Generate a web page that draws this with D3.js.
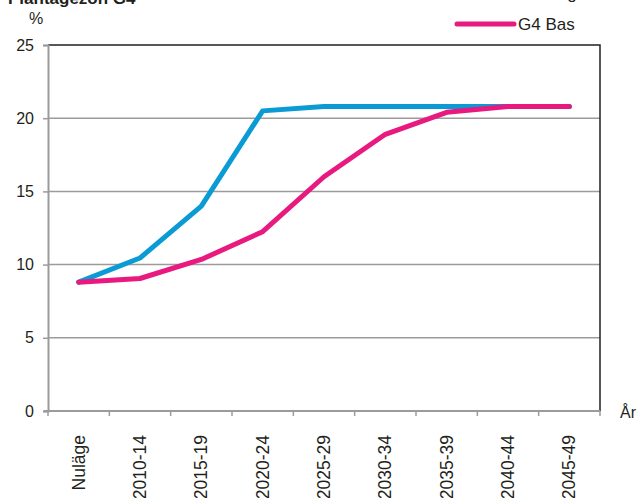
<!DOCTYPE html>
<html>
<head>
<meta charset="utf-8">
<script src="https://cdn.jsdelivr.net/npm/d3@7"></script>
<style>
  html, body { margin: 0; padding: 0; background: #fff; }
  svg { display: block; font-family: "Liberation Sans", Arial, sans-serif; }
</style>
</head>
<body>
<svg id="chart" width="638" height="498"></svg>
<script>
// Period categories along the x axis
const categories = ["Nuläge", "2010-14", "2015-19", "2020-24", "2025-29", "2030-34", "2035-39", "2040-44", "2045-49"];
// Share of area (%) per period
const seriesHog = [8.8, 10.45, 14.0, 20.5, 20.8, 20.8, 20.8, 20.8, 20.8];
const seriesBas = [8.8, 9.05, 10.35, 12.25, 16.0, 18.9, 20.4, 20.8, 20.8];
const seriesNames = ["G4 Hög", "G4 Bas"];
const yTicks = [0, 5, 10, 15, 20, 25];

const svg = d3.select("#chart");
const plotLeft = 48, plotRight = 600, plotTop = 45, plotBottom = 411;

const x = d3.scaleBand().domain(categories).range([plotLeft, plotRight]).padding(0);
const y = d3.scaleLinear().domain([0, 25]).range([plotBottom, plotTop]);

const grey = "#9b9b9d";
const ink = "#231f20";

// Horizontal gridlines
svg.append("g").selectAll("line")
  .data(yTicks.filter(t => t > 0 && t < 25))
  .join("line")
  .attr("x1", plotLeft).attr("x2", plotRight)
  .attr("y1", d => y(d)).attr("y2", d => y(d))
  .attr("stroke", grey).attr("stroke-width", 1.5);

// Top and right frame
svg.append("path")
  .attr("d", `M${plotLeft},${y(25)}H${plotRight}V${plotBottom}`)
  .attr("fill", "none").attr("stroke", ink).attr("stroke-width", 1.5);

// Y axis
const yAxis = svg.append("g")
  .attr("transform", `translate(${plotLeft},0)`)
  .call(d3.axisLeft(y).tickValues(yTicks).tickSize(5).tickPadding(9).tickFormat(d3.format("d")));
yAxis.select(".domain").attr("stroke", grey).attr("stroke-width", 2);
yAxis.selectAll(".tick line").attr("stroke", grey).attr("stroke-width", 1.5);
yAxis.selectAll(".tick text").attr("font-size", 16).attr("fill", ink)
  .attr("font-family", "Liberation Sans, Arial, sans-serif");

// X axis with ticks on band boundaries
const xAxisG = svg.append("g");
xAxisG.append("line")
  .attr("x1", plotLeft - 4).attr("x2", plotRight).attr("y1", plotBottom).attr("y2", plotBottom)
  .attr("stroke", grey).attr("stroke-width", 2);
const bounds = categories.map(c => x(c)).concat([x(categories[categories.length - 1]) + x.bandwidth()]);
xAxisG.selectAll("line.tick")
  .data(bounds)
  .join("line").attr("class", "tick")
  .attr("x1", d => d).attr("x2", d => d)
  .attr("y1", plotBottom).attr("y2", plotBottom + 5)
  .attr("stroke", grey).attr("stroke-width", 1.5);

// Rotated category labels
svg.append("g").selectAll("text")
  .data(categories)
  .join("text")
  .attr("transform", d => `translate(${x(d) + x.bandwidth() / 2 + 6},${plotBottom + 24}) rotate(-90)`)
  .attr("text-anchor", "end")
  .attr("font-size", 17.5)
  .attr("fill", ink)
  .text(d => d);

// Axis titles
svg.append("text").attr("x", 29).attr("y", 24).attr("font-size", 16).attr("fill", ink).text("%");
svg.append("text").attr("x", 620).attr("y", 418).attr("font-size", 16).attr("fill", ink).text("År");

// Chart title (partly above the visible area)
svg.append("text").attr("x", 8).attr("y", 4).attr("font-size", 17).attr("font-weight", "bold")
  .attr("fill", ink).text("Plantagezon G4");

// Lines
const colors = ["#0a9bd5", "#e8197f"];
const line = d3.line().x((d, i) => x(categories[i]) + x.bandwidth() / 2).y(d => y(d));
[seriesHog, seriesBas].forEach((s, k) => {
  svg.append("path")
    .datum(s)
    .attr("d", line)
    .attr("fill", "none")
    .attr("stroke", colors[k])
    .attr("stroke-width", 5)
    .attr("stroke-linejoin", "round")
    .attr("stroke-linecap", "round");
});

// Legend
const legend = svg.append("g");
seriesNames.forEach((name, k) => {
  const ly = 24 - (1 - k) * 31;
  legend.append("line")
    .attr("x1", 457).attr("x2", 514).attr("y1", ly).attr("y2", ly)
    .attr("stroke", colors[k]).attr("stroke-width", 5).attr("stroke-linecap", "round");
  legend.append("text")
    .attr("x", 518).attr("y", ly + 6)
    .attr("font-size", 17)
    .attr("fill", ink)
    .text(name);
});
</script>
</body>
</html>
